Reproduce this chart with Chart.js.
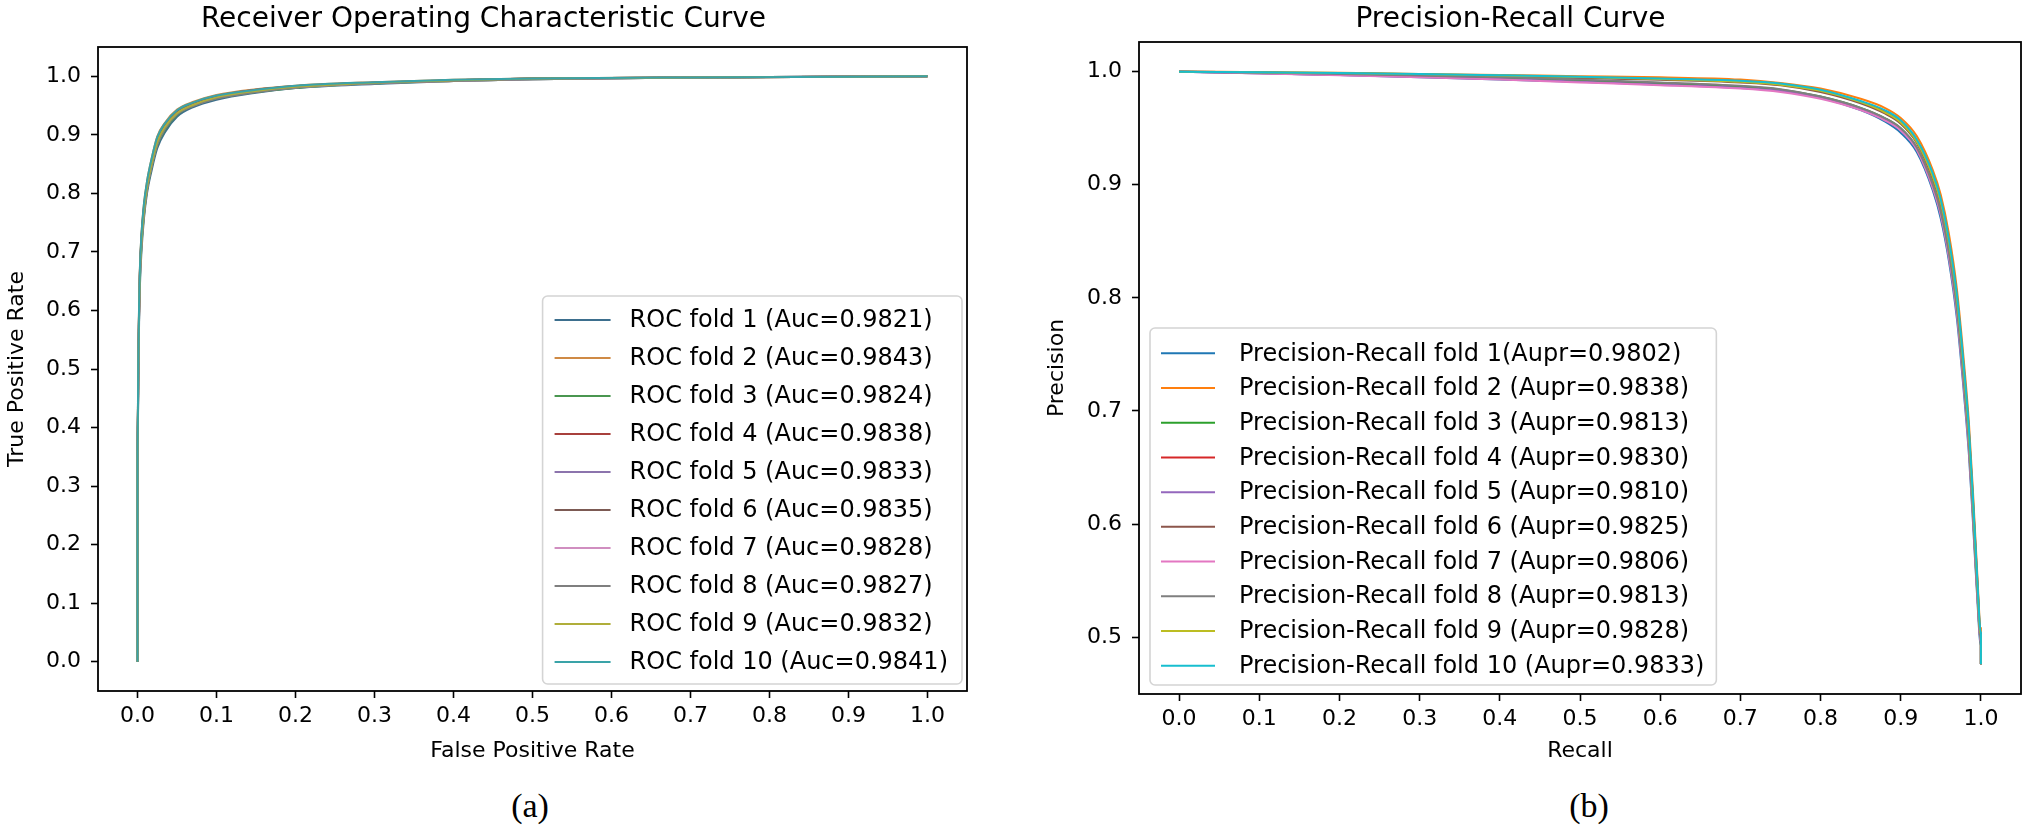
<!DOCTYPE html>
<html>
<head>
<meta charset="utf-8">
<script src="https://cdn.jsdelivr.net/npm/chart.js@4.4.1/dist/chart.umd.min.js"></script>
<style>
  html, body { margin:0; padding:0; background:#fff; }
  body { width:2027px; height:825px; position:relative; overflow:hidden; }
  .wrap { position:absolute; top:0; }
  .cap { position:absolute; top:806px; transform:translate(-50%,-50%); font-family:"Liberation Serif", serif; font-size:34px; line-height:1; color:#000; }
</style>
</head>
<body>
<div class="wrap" style="left:0px;width:1000px;height:770px;"><canvas id="roc" width="1000" height="770"></canvas></div>
<div class="wrap" style="left:1000px;width:1027px;height:770px;"><canvas id="pr" width="1027" height="770"></canvas></div>
<div class="cap" style="left:530px;">(a)</div>
<div class="cap" style="left:1589px;">(b)</div>
<script>
// ---------- DATA ----------
const tickValues = [0, 0.1, 0.2, 0.3, 0.4, 0.5, 0.6, 0.7, 0.8, 0.9, 1.0];
const prYTicks = [0.5, 0.6, 0.7, 0.8, 0.9, 1.0];

const rocLabels = ["ROC fold 1 (Auc=0.9821)","ROC fold 2 (Auc=0.9843)","ROC fold 3 (Auc=0.9824)","ROC fold 4 (Auc=0.9838)","ROC fold 5 (Auc=0.9833)","ROC fold 6 (Auc=0.9835)","ROC fold 7 (Auc=0.9828)","ROC fold 8 (Auc=0.9827)","ROC fold 9 (Auc=0.9832)","ROC fold 10 (Auc=0.9841)"];
const prLabels = ["Precision-Recall fold 1(Aupr=0.9802)","Precision-Recall fold 2 (Aupr=0.9838)","Precision-Recall fold 3 (Aupr=0.9813)","Precision-Recall fold 4 (Aupr=0.9830)","Precision-Recall fold 5 (Aupr=0.9810)","Precision-Recall fold 6 (Aupr=0.9825)","Precision-Recall fold 7 (Aupr=0.9806)","Precision-Recall fold 8 (Aupr=0.9813)","Precision-Recall fold 9 (Aupr=0.9828)","Precision-Recall fold 10 (Aupr=0.9833)"];

// False positive rate grid (shared by all ROC folds)
const fpr = [0, 0, 0.001, 0.002, 0.003, 0.005, 0.008, 0.012, 0.018, 0.025, 0.035, 0.05, 0.07, 0.1, 0.15, 0.2, 0.3, 0.4, 0.5, 0.7, 1.0];
const tprFold1  = [0,0.33,0.48,0.58,0.64,0.70,0.755,0.80,0.84,0.877,0.905,0.931,0.947,0.960,0.972,0.980,0.987,0.992,0.995,0.998,1.0];
const tprFold2  = [0,0.36,0.51,0.61,0.67,0.73,0.78,0.82,0.86,0.897,0.921,0.943,0.956,0.968,0.978,0.984,0.990,0.994,0.996,0.998,1.0];
const tprFold3  = [0,0.34,0.49,0.59,0.65,0.71,0.76,0.805,0.845,0.882,0.909,0.934,0.949,0.962,0.973,0.980,0.988,0.992,0.995,0.998,1.0];
const tprFold4  = [0,0.35,0.50,0.60,0.665,0.725,0.775,0.815,0.855,0.892,0.917,0.940,0.954,0.966,0.977,0.983,0.989,0.993,0.996,0.998,1.0];
const tprFold5  = [0,0.35,0.50,0.60,0.66,0.72,0.77,0.812,0.852,0.889,0.915,0.938,0.952,0.965,0.976,0.982,0.989,0.993,0.996,0.998,1.0];
const tprFold6  = [0,0.36,0.50,0.605,0.665,0.72,0.772,0.813,0.853,0.890,0.916,0.939,0.953,0.965,0.976,0.983,0.989,0.993,0.996,0.998,1.0];
const tprFold7  = [0,0.34,0.49,0.59,0.655,0.715,0.765,0.808,0.848,0.885,0.912,0.936,0.950,0.963,0.974,0.981,0.988,0.992,0.995,0.998,1.0];
const tprFold8  = [0,0.34,0.49,0.595,0.655,0.712,0.763,0.807,0.847,0.884,0.911,0.935,0.949,0.962,0.973,0.981,0.988,0.992,0.995,0.998,1.0];
const tprFold9  = [0,0.35,0.50,0.60,0.66,0.718,0.768,0.811,0.851,0.888,0.914,0.937,0.951,0.964,0.975,0.982,0.989,0.993,0.996,0.998,1.0];
const tprFold10 = [0,0.36,0.51,0.61,0.67,0.73,0.78,0.82,0.86,0.896,0.920,0.942,0.955,0.967,0.977,0.984,0.990,0.994,0.996,0.998,1.0];

// Recall grid (shared by all PR folds)
const recall = [0, 0.05, 0.1, 0.2, 0.3, 0.4, 0.5, 0.6, 0.7, 0.75, 0.8, 0.85, 0.88, 0.9, 0.92, 0.94, 0.95, 0.96, 0.97, 0.98, 0.985, 0.99, 0.995, 1.0, 1.0];
const precFold1  = [1.0,0.9992,0.9985,0.997,0.995,0.993,0.991,0.989,0.986,0.983,0.977,0.966,0.956,0.946,0.929,0.895,0.870,0.833,0.782,0.706,0.662,0.603,0.540,0.492,0.476];
const precFold2  = [1.0,0.9998,0.9995,0.999,0.998,0.997,0.996,0.995,0.993,0.990,0.985,0.976,0.968,0.959,0.943,0.913,0.891,0.857,0.808,0.734,0.690,0.630,0.562,0.508,0.476];
const precFold3  = [1.0,0.9994,0.9988,0.9975,0.996,0.994,0.992,0.990,0.987,0.984,0.978,0.968,0.959,0.950,0.933,0.900,0.876,0.840,0.790,0.714,0.670,0.611,0.546,0.497,0.476];
const precFold4  = [1.0,0.9997,0.9993,0.9985,0.9975,0.9962,0.9948,0.9935,0.9915,0.989,0.983,0.973,0.965,0.956,0.939,0.908,0.885,0.850,0.801,0.726,0.682,0.622,0.556,0.503,0.476];
const precFold5  = [1.0,0.9993,0.9985,0.997,0.9955,0.9935,0.991,0.9885,0.9855,0.983,0.977,0.967,0.958,0.949,0.932,0.899,0.875,0.839,0.789,0.713,0.669,0.610,0.545,0.496,0.476];
const precFold6  = [1.0,0.9996,0.9992,0.9982,0.997,0.9957,0.9943,0.9928,0.9905,0.988,0.982,0.972,0.963,0.954,0.937,0.905,0.882,0.847,0.798,0.723,0.679,0.619,0.553,0.501,0.476];
const precFold7  = [1.0,0.9992,0.9984,0.9968,0.995,0.993,0.9905,0.988,0.985,0.982,0.976,0.966,0.957,0.948,0.931,0.897,0.873,0.836,0.786,0.710,0.666,0.607,0.543,0.495,0.476];
const precFold8  = [1.0,0.9995,0.999,0.998,0.9965,0.995,0.993,0.9905,0.9875,0.9845,0.978,0.968,0.959,0.950,0.933,0.900,0.876,0.840,0.790,0.714,0.670,0.611,0.546,0.497,0.476];
const precFold9  = [1.0,0.9997,0.9994,0.9987,0.9978,0.9966,0.9952,0.9935,0.991,0.9885,0.983,0.973,0.964,0.955,0.938,0.907,0.884,0.849,0.800,0.725,0.681,0.621,0.555,0.502,0.476];
const precFold10 = [1.0,0.9997,0.9994,0.9988,0.998,0.9968,0.9955,0.994,0.992,0.9895,0.984,0.974,0.966,0.957,0.940,0.910,0.887,0.852,0.803,0.729,0.685,0.625,0.558,0.504,0.476];

const rocColors = ['#3d6f8e','#cf8a45','#4a9650','#a8403c','#8c74ad','#7c5a54','#d08ec0','#7f7f7f','#b0ae3a','#3aa3a8'];
const prColors  = ['#1f77b4','#ff7f0e','#2ca02c','#d62728','#9467bd','#8c564b','#e377c2','#7f7f7f','#bcbd22','#17becf'];

const tprFolds  = [tprFold1,tprFold2,tprFold3,tprFold4,tprFold5,tprFold6,tprFold7,tprFold8,tprFold9,tprFold10];
const precFolds = [precFold1,precFold2,precFold3,precFold4,precFold5,precFold6,precFold7,precFold8,precFold9,precFold10];

// ---------- HELPERS ----------
const FONT = '"DejaVu Sans", sans-serif';

const framePlugin = {
  id: 'frame',
  afterDatasetsDraw(chart) {
    const {ctx, chartArea: a} = chart;
    ctx.save();
    ctx.strokeStyle = '#000';
    ctx.lineWidth = 1.8;
    ctx.strokeRect(a.left, a.top, a.right - a.left, a.bottom - a.top);
    ctx.restore();
  }
};

const boxLegend = {
  id: 'boxLegend',
  afterDraw(chart, args, o) {
    if (!o || !o.show) return;
    const {ctx, chartArea: a} = chart;
    const ds = chart.data.datasets;
    ctx.save();
    ctx.font = o.fontSize + 'px ' + FONT;
    const maxW = Math.max(...ds.map(d => ctx.measureText(d.label).width));
    const w = o.padL + o.lineLen + o.gap + maxW + o.padR;
    const h = o.padT + ds.length * o.rowH + o.padB;
    const x = o.anchor === 'right' ? a.right - o.marginX - w : a.left + o.marginX;
    const y = a.bottom - o.marginB - h;
    ctx.beginPath();
    ctx.roundRect(x, y, w, h, 5);
    ctx.fillStyle = 'rgba(255,255,255,0.85)';
    ctx.fill();
    ctx.strokeStyle = '#d4d4d4';
    ctx.lineWidth = 1.6;
    ctx.stroke();
    ds.forEach((d, i) => {
      const cy = y + o.padT + o.rowH * (i + 0.5);
      ctx.beginPath();
      ctx.moveTo(x + o.padL, cy);
      ctx.lineTo(x + o.padL + o.lineLen, cy);
      ctx.strokeStyle = d.borderColor;
      ctx.lineWidth = 2;
      ctx.stroke();
      ctx.fillStyle = '#000';
      ctx.textBaseline = 'middle';
      ctx.textAlign = 'left';
      ctx.fillText(d.label, x + o.padL + o.lineLen + o.gap, cy + 1);
    });
    ctx.restore();
  }
};

function axis(min, max, ticks, title, fixed, isY, titlePad) {
  return {
    type: 'linear',
    min: min, max: max,
    afterBuildTicks: s => { s.ticks = ticks.map(v => ({value: v})); },
    afterFit: s => { if (isY) s.width = fixed; else s.height = fixed; },
    border: { display: false },
    grid: { display: true, drawOnChartArea: false, drawTicks: true, tickLength: 7, tickWidth: 1.6, tickColor: '#000', color: '#000' },
    ticks: {
      color: '#000', font: { family: FONT, size: 22 }, padding: isY ? 10 : 5,
      autoSkip: false, maxRotation: 0,
      callback: v => Number(v).toFixed(1)
    },
    title: { display: true, text: title, color: '#000', font: { family: FONT, size: 22 }, padding: titlePad }
  };
}

Chart.defaults.animation = false;

// ---------- ROC ----------
new Chart(document.getElementById('roc'), {
  type: 'line',
  data: {
    datasets: tprFolds.map((t, i) => ({
      label: rocLabels[i],
      data: fpr.map((x, j) => ({x: x, y: t[j]})),
      borderColor: rocColors[i], backgroundColor: rocColors[i],
      borderWidth: 2, pointRadius: 0, fill: false,
      cubicInterpolationMode: 'monotone', order: 10 - i
    }))
  },
  options: {
    responsive: false, maintainAspectRatio: false, devicePixelRatio: 1,
    layout: { padding: { left: 0, right: 33, top: 0, bottom: 0 } },
    scales: {
      x: axis(-0.05, 1.05, tickValues, 'False Positive Rate', 79, false, { top: 4, bottom: 6 }),
      y: axis(-0.05, 1.05, tickValues, 'True Positive Rate', 98, true, { top: 4, bottom: 4 })
    },
    plugins: {
      legend: { display: false },
      tooltip: { enabled: false },
      title: { display: true, text: 'Receiver Operating Characteristic Curve', color: '#000',
               font: { family: FONT, size: 28, weight: 'normal', lineHeight: 1 }, padding: { top: 6, bottom: 13 } },
      boxLegend: { show: true, anchor: 'right', fontSize: 24, marginX: 5, marginB: 7, padL: 12, lineLen: 56, gap: 19, padR: 14, padT: 5, padB: 3, rowH: 38 }
    }
  },
  plugins: [framePlugin, boxLegend]
});

// ---------- PR ----------
new Chart(document.getElementById('pr'), {
  type: 'line',
  data: {
    datasets: precFolds.map((p, i) => ({
      label: prLabels[i],
      data: recall.map((x, j) => ({x: x, y: p[j]})),
      borderColor: prColors[i], backgroundColor: prColors[i],
      borderWidth: 2, pointRadius: 0, fill: false,
      cubicInterpolationMode: 'monotone', order: 10 - i
    }))
  },
  options: {
    responsive: false, maintainAspectRatio: false, devicePixelRatio: 1,
    layout: { padding: { left: 0, right: 6, top: 0, bottom: 0 } },
    scales: {
      x: axis(-0.05, 1.05, tickValues, 'Recall', 76, false, { top: 4, bottom: 6 }),
      y: axis(0.4498, 1.0262, prYTicks, 'Precision', 139, true, { top: 44, bottom: 4 })
    },
    plugins: {
      legend: { display: false },
      tooltip: { enabled: false },
      title: { display: true, text: 'Precision-Recall Curve', color: '#000',
               font: { family: FONT, size: 28, weight: 'normal', lineHeight: 1 }, padding: { top: 6, bottom: 8 } },
      boxLegend: { show: true, anchor: 'left', fontSize: 24, marginX: 11, marginB: 9, padL: 11, lineLen: 54, gap: 24, padR: 12, padT: 8, padB: 2, rowH: 34.7 }
    }
  },
  plugins: [framePlugin, boxLegend]
});
</script>
</body>
</html>
